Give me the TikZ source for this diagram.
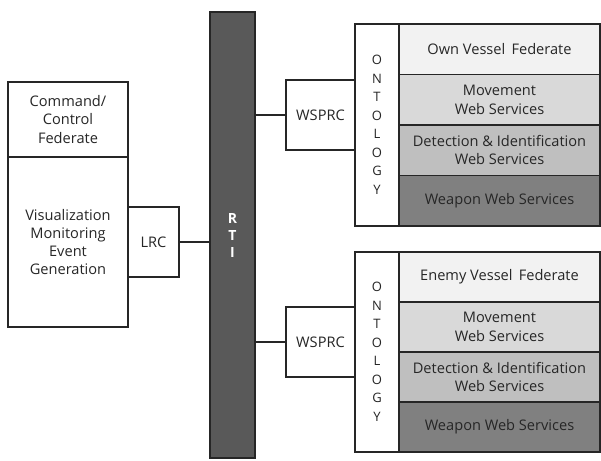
\documentclass[tikz,border=0pt]{standalone}
\usepackage{fontspec}
\setmainfont{Open Sans}
\usepackage{xcolor}
\usetikzlibrary{positioning}
\definecolor{rtifill}{RGB}{89,89,89}
\definecolor{fedfill}{RGB}{242,242,242}
\definecolor{movefill}{RGB}{217,217,217}
\definecolor{detfill}{RGB}{191,191,191}
\definecolor{weapfill}{RGB}{128,128,128}

\begin{document}
\begin{tikzpicture}[
  x=1pt, y=-1pt,
  font=\fontsize{14.6}{18.3}\selectfont,
  node distance=0pt,
  box/.style={draw=black!85, line width=1.6pt, outer sep=0pt, inner sep=1pt, align=center, fill=white, text=black!85},
  layer/.style={box, minimum width=201pt, minimum height=50.5pt},
  letters/.style={box, font=\fontsize{13}{18.5}\selectfont},
  wire/.style={draw=black!85, line width=1.6pt},
]
\useasboundingbox (0,0) rectangle (601,460);
\node[box, minimum width=120pt, minimum height=75pt] (cmd) at (68,119.5) {Command/\\Control\\Federate};
\node[box, minimum width=120pt, minimum height=170pt, below=of cmd] (vis) {Visualization\\Monitoring\\Event\\Generation};
\node[box, minimum width=51pt, minimum height=70pt, right=of vis] (lrc) {LRC};
\node[box, fill=rtifill, minimum width=45pt, minimum height=446pt, text=white, font=\fontsize{14}{17}\selectfont\bfseries] (rti) at (232.5,235) {R\\T\\I};
\node[letters, minimum width=44pt, minimum height=202pt] (ont1) at (377,125) {O\\N\\T\\O\\L\\O\\G\\Y};
\node[box, minimum width=69pt, minimum height=70pt, left=of ont1, yshift=10pt] (ws1) {WSPRC};
\node[layer, fill=fedfill, anchor=north west] (own) at (ont1.north east) {Own Vessel\, Federate};
\node[layer, fill=movefill, below=of own] (move1) {Movement\\Web Services};
\node[layer, fill=detfill, below=of move1] (det1) {Detection \& Identification\\Web Services};
\node[layer, fill=weapfill, below=of det1] (weap1) {Weapon Web Services};
\node[letters, minimum width=44pt, minimum height=200pt] (ont2) at (377,352) {O\\N\\T\\O\\L\\O\\G\\Y};
\node[box, minimum width=69pt, minimum height=70pt, left=of ont2, yshift=10pt] (ws2) {WSPRC};
\node[layer, minimum height=50pt, fill=fedfill, anchor=north west] (enemy) at (ont2.north east) {Enemy Vessel\, Federate};
\node[layer, minimum height=50pt, fill=movefill, below=of enemy] (move2) {Movement\\Web Services};
\node[layer, minimum height=50pt, fill=detfill, below=of move2] (det2) {Detection \& Identification\\Web Services};
\node[layer, minimum height=50pt, fill=weapfill, below=of det2] (weap2) {Weapon Web Services};
\draw[wire] (lrc.east) -- (lrc.east -| rti.west);
\draw[wire] (rti.east |- ws1.west) -- (ws1.west);
\draw[wire] (rti.east |- ws2.west) -- (ws2.west);
\end{tikzpicture}
\end{document}
